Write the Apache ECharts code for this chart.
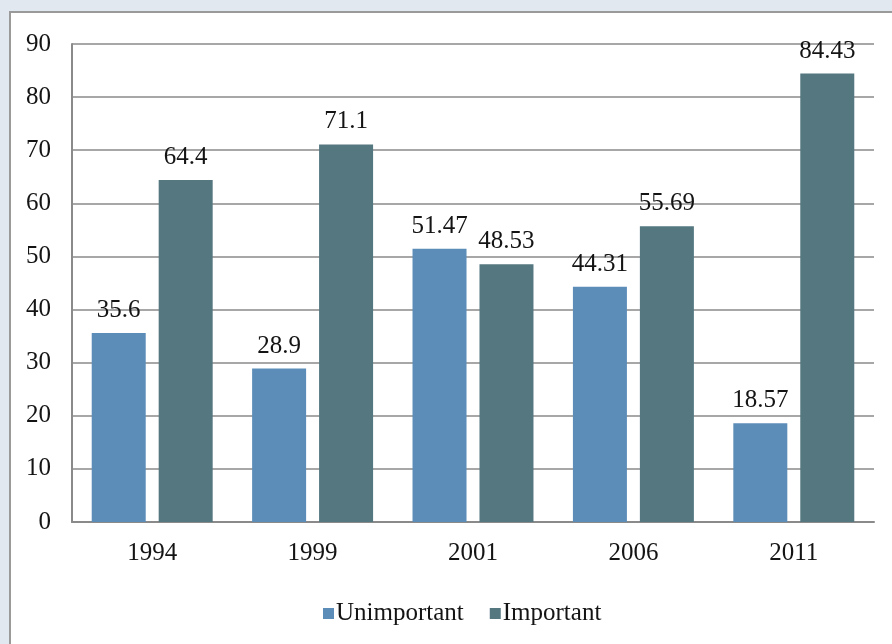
<!DOCTYPE html>
<html>
<head>
<meta charset="utf-8">
<script src="https://cdn.jsdelivr.net/npm/echarts@6/dist/echarts.min.js"></script>
<style>
html,body{margin:0;padding:0;width:892px;height:644px;overflow:hidden;background:#e1e8f0;}
#panel{position:absolute;left:9px;top:11px;width:900px;height:700px;background:#fff;border-top:2px solid #9a9a9a;border-left:2px solid #9a9a9a;}
#chart{position:absolute;left:0;top:0;width:892px;height:644px;}
</style>
</head>
<body>
<div id="panel"></div>
<div id="chart"></div>
<script>
const categories = ['1994', '1999', '2001', '2006', '2011'];
const unimportant = [35.6, 28.9, 51.47, 44.31, 18.57];
const important = [64.4, 71.1, 48.53, 55.69, 84.43];
const seriesNames = ['Unimportant', 'Important'];

const font = 'Liberation Serif';
const txt = '#141414';
const chart = echarts.init(document.getElementById('chart'), null, {renderer: 'canvas'});
const labelStyle = {
  show: true, position: 'top', distance: 10,
  fontFamily: font, fontSize: 25, color: txt
};
chart.setOption({
  backgroundColor: 'transparent',
  animation: false,
  grid: {left: 72, right: 18, top: 44, bottom: 122},
  legend: {
    data: seriesNames,
    left: 318, top: 596,
    icon: 'rect', itemWidth: 11, itemHeight: 11, itemGap: 26,
    textStyle: {fontFamily: font, fontSize: 25, color: txt, padding: [0,0,0,-3]}
  },
  xAxis: {
    type: 'category', data: categories,
    axisLine: {lineStyle: {color: '#8a8a8a', width: 2}},
    axisTick: {show: false},
    axisLabel: {fontFamily: font, fontSize: 25, color: txt, margin: 19}
  },
  yAxis: {
    type: 'value', min: 0, max: 90, interval: 10,
    axisLine: {show: true, lineStyle: {color: '#8a8a8a', width: 2}},
    axisTick: {show: false},
    axisLabel: {fontFamily: font, fontSize: 25, color: txt, margin: 21},
    splitLine: {lineStyle: {color: '#8a8a8a', width: 1.6}}
  },
  series: [
    {name: seriesNames[0], type: 'bar', data: unimportant, barWidth: 54, barGap: '24%',
     itemStyle: {color: '#5b8db8'}, label: labelStyle},
    {name: seriesNames[1], type: 'bar', data: important, barWidth: 54, barGap: '24%',
     itemStyle: {color: '#547780'}, label: labelStyle}
  ]
});
</script>
</body>
</html>
